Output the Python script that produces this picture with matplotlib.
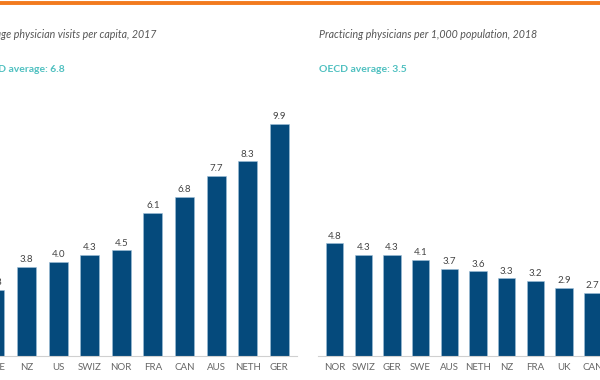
import matplotlib
matplotlib.use("Agg")
import matplotlib.pyplot as plt

# physician visits per capita, 2017 (left panel, ascending)
visit_countries = ['SWE', 'NZ', 'US', 'SWIZ', 'NOR', 'FRA', 'CAN', 'AUS', 'NETH', 'GER']
visit_values = [2.8, 3.8, 4.0, 4.3, 4.5, 6.1, 6.8, 7.7, 8.3, 9.9]

# practicing physicians per 1,000 population, 2018 (right panel, descending)
doc_countries = ['NOR', 'SWIZ', 'GER', 'SWE', 'AUS', 'NETH', 'NZ', 'FRA', 'UK', 'CAN', 'US']
doc_values = [4.8, 4.3, 4.3, 4.1, 3.7, 3.6, 3.3, 3.2, 2.9, 2.7, 2.6]

W, H = 600, 380
BAR = '#054a7c'
GRAY_TXT = '#555555'
TEAL = '#4fc0c0'
FONT = 'Lato'


def px_axes(fig, left, right, base, px_per_unit, ytop):
    # axes placed in figure pixels (may run past the figure edge)
    h = px_per_unit * ytop
    return fig.add_axes([left / W, (H - base) / H, (right - left) / W, h / H])


def bar_panel(ax, labels, values, xlim, ytop):
    x = range(len(values))
    ax.bar(x, values, width=0.6, color=BAR, edgecolor='#9fbfd8', linewidth=0.4)
    for i, v in zip(x, values):
        ax.text(i, v + 0.12, f'{v:.1f}', ha='center', va='bottom',
                fontsize=7, color='#444444', family=FONT)
    ax.set_xlim(*xlim)
    ax.set_ylim(0, ytop)
    ax.set_xticks(list(x))
    ax.set_xticklabels(labels, fontsize=7, color='#666666', family=FONT)
    ax.tick_params(axis='x', length=0, pad=5)
    ax.set_yticks([])
    for s in ['top', 'right', 'left']:
        ax.spines[s].set_visible(False)
    ax.spines['bottom'].set_color('#d0d0d0')
    ax.spines['bottom'].set_linewidth(0.8)
    ax.patch.set_alpha(0)


fig = plt.figure(figsize=(6, 3.8), dpi=100)

# left panel: NZ centre at 26.5 px, step 31.6 px
step_l = 31.6
xl = (-0.55, 9.55)
ax1 = px_axes(fig, 26.5 + (xl[0] - 1) * step_l, 26.5 + (xl[1] - 1) * step_l, 355.7, 23.4, 11)
bar_panel(ax1, visit_countries, visit_values, xl, 11)

# right panel: NOR centre at 334.5 px, step 28.7 px
step_r = 28.7
xr = (-0.575, 10.5)
ax2 = px_axes(fig, 334.5 + xr[0] * step_r, 334.5 + xr[1] * step_r, 355.7, 23.4, 11)
bar_panel(ax2, doc_countries, doc_values, xr, 11)

# titles
fig.text(157 / W, 1 - 35 / H, 'Average physician visits per capita, 2017', ha='right', va='center',
         fontsize=7.7, style='italic', color=GRAY_TXT, family=FONT)
fig.text(65 / W, 1 - 70 / H, 'OECD average: 6.8', ha='right', va='center',
         fontsize=7.5, weight='bold', color=TEAL, family=FONT)
fig.text(319 / W, 1 - 35 / H, 'Practicing physicians per 1,000 population, 2018', ha='left', va='center',
         fontsize=7.7, style='italic', color=GRAY_TXT, family=FONT)
fig.text(319 / W, 1 - 70 / H, 'OECD average: 3.5', ha='left', va='center',
         fontsize=7.5, weight='bold', color=TEAL, family=FONT)

# orange rule across the top
fig.add_artist(plt.Line2D([0, 1], [1 - 3.2 / H, 1 - 3.2 / H], transform=fig.transFigure,
                          color='#f27a1e', linewidth=2.8))

fig.savefig('out.png', dpi=100)
